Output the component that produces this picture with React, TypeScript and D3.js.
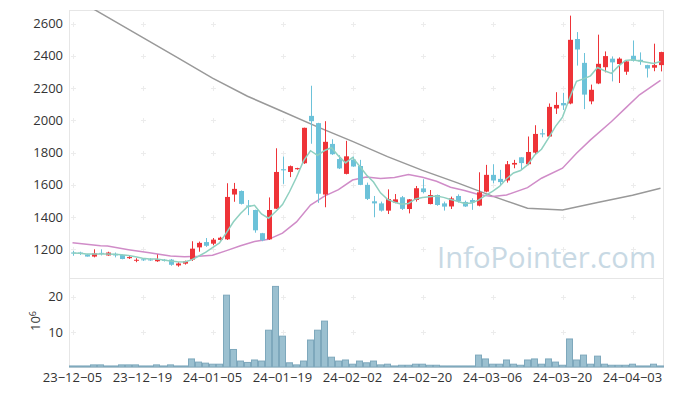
import React, { useEffect, useRef } from 'react';
import * as d3 from 'd3';

// trading days (yy-mm-dd)
const dates = [
  '23-12-05', '23-12-06', '23-12-07', '23-12-08', '23-12-11', '23-12-12', '23-12-13', '23-12-14', '23-12-15', '23-12-18',
  '23-12-19', '23-12-20', '23-12-21', '23-12-22', '23-12-26', '23-12-27', '23-12-28',
  '24-01-02', '24-01-03', '24-01-04', '24-01-05', '24-01-08', '24-01-09', '24-01-10', '24-01-11', '24-01-12',
  '24-01-15', '24-01-16', '24-01-17', '24-01-18', '24-01-19', '24-01-22', '24-01-23', '24-01-24', '24-01-25',
  '24-01-26', '24-01-29', '24-01-30', '24-01-31',
  '24-02-01', '24-02-02', '24-02-05', '24-02-06', '24-02-07', '24-02-08', '24-02-13', '24-02-14', '24-02-15',
  '24-02-16', '24-02-19', '24-02-20', '24-02-21', '24-02-22', '24-02-23', '24-02-26', '24-02-27', '24-02-28', '24-02-29',
  '24-03-04', '24-03-05', '24-03-06', '24-03-07', '24-03-08', '24-03-11', '24-03-12', '24-03-13', '24-03-14',
  '24-03-15', '24-03-18', '24-03-19', '24-03-20', '24-03-21', '24-03-22', '24-03-25', '24-03-26', '24-03-27',
  '24-03-28', '24-03-29',
  '24-04-01', '24-04-02', '24-04-03', '24-04-04', '24-04-05', '24-04-08', '24-04-09',
];

const opens = [
  1180, 1180, 1168, 1155, 1178, 1162, 1172, 1165, 1145, 1133, 1138, 1137, 1126, 1135, 1136, 1100, 1111, 1136, 1212, 1245,
  1235, 1258, 1262, 1540, 1562, 1472, 1444, 1300, 1262, 1452, 1697, 1680, 1697, 1734, 2028, 1983, 1540, 1854, 1760, 1668,
  1757, 1717, 1600, 1498, 1485, 1440, 1490, 1523, 1450, 1506, 1578, 1481, 1537, 1485, 1466, 1531, 1494, 1506, 1471, 1558,
  1662, 1637, 1627, 1726, 1771, 1728, 1800, 1920, 1900, 2074, 2108, 2105, 2505, 2357, 2118, 2229, 2330, 2383, 2350, 2302,
  2401, 2376, 2343, 2327, 2343,
];
const highs = [
  1190, 1185, 1170, 1200, 1200, 1185, 1180, 1168, 1162, 1145, 1145, 1145, 1168, 1140, 1140, 1120, 1130, 1250, 1248, 1270,
  1270, 1278, 1610, 1612, 1565, 1506, 1446, 1302, 1522, 1827, 1776, 1720, 1706, 1955, 2215, 1985, 1995, 1883, 1784, 1873,
  1776, 1755, 1614, 1531, 1496, 1572, 1543, 1531, 1512, 1593, 1635, 1568, 1540, 1496, 1527, 1541, 1502, 1517, 1678, 1724,
  1728, 1693, 1748, 1755, 1772, 1900, 1970, 1947, 2105, 2175, 2171, 2650, 2548, 2418, 2222, 2532, 2428, 2397, 2391, 2368,
  2496, 2422, 2345, 2476, 2426,
];
const lows = [
  1160, 1165, 1155, 1150, 1162, 1160, 1150, 1138, 1140, 1120, 1128, 1128, 1122, 1124, 1098, 1092, 1105, 1128, 1185, 1215,
  1225, 1254, 1258, 1495, 1478, 1412, 1303, 1250, 1258, 1450, 1606, 1648, 1694, 1730, 1855, 1488, 1461, 1786, 1698, 1665,
  1712, 1598, 1506, 1399, 1434, 1419, 1486, 1444, 1423, 1496, 1547, 1479, 1470, 1440, 1450, 1490, 1463, 1445, 1467, 1554,
  1610, 1595, 1614, 1703, 1693, 1722, 1786, 1895, 1898, 2040, 2065, 2100, 2340, 2070, 2100, 2225, 2298, 2242, 2232, 2283,
  2365, 2345, 2266, 2305, 2304,
];
const closes = [
  1175, 1175, 1155, 1175, 1172, 1180, 1162, 1140, 1152, 1135, 1135, 1136, 1138, 1128, 1104, 1112, 1125, 1204, 1240, 1222,
  1260, 1272, 1525, 1575, 1482, 1465, 1318, 1256, 1444, 1680, 1690, 1716, 1704, 1954, 1995, 1545, 1867, 1790, 1702, 1777,
  1714, 1600, 1513, 1485, 1440, 1512, 1510, 1451, 1510, 1579, 1555, 1537, 1475, 1465, 1516, 1500, 1466, 1490, 1554, 1662,
  1627, 1617, 1728, 1736, 1735, 1804, 1916, 1913, 2084, 2096, 2093, 2500, 2440, 2160, 2190, 2351, 2399, 2360, 2383, 2366,
  2370, 2366, 2322, 2343, 2424,
];
// closes of the 4 days before the first shown day (for the 5-day average)
const priorCloses = [1180, 1178, 1176, 1175];

// volume, millions
const volumes = [
  0.3, 0.3, 0.3, 0.6, 0.6, 0.3, 0.3, 0.6, 0.6, 0.6, 0.3, 0.3, 0.6, 0.3, 0.6, 0.3, 0.3, 2.3, 1.4, 1.1,
  0.8, 0.8, 20.5, 5.0, 1.7, 1.3, 2.0, 1.7, 10.5, 23.0, 8.8, 1.2, 0.6, 1.7, 7.7, 10.5, 13.1, 2.8, 1.7, 2.0,
  0.8, 1.7, 1.2, 1.7, 0.6, 0.8, 0.3, 0.5, 0.5, 0.8, 0.8, 0.5, 0.5, 0.3, 0.3, 0.3, 0.3, 0.3, 3.4, 2.3,
  0.8, 0.8, 2.0, 0.8, 0.5, 2.0, 2.3, 0.8, 2.3, 1.4, 0.5, 8.0, 2.0, 3.4, 0.8, 3.1, 0.8, 0.5, 0.5, 0.5,
  0.8, 0.3, 0.3, 0.8, 0.3,
];

// 20-day average
const ma20Idx = [0, 4, 5, 8, 11, 14, 16, 18, 20, 22, 24, 26, 28, 30, 32, 34, 36, 38, 40, 42, 44, 46, 48, 50, 52, 54, 56, 58, 60, 62, 65, 67, 70, 72, 74, 77, 79, 81, 84];
const ma20Val = [1241, 1222, 1220, 1198, 1178, 1158, 1154, 1157, 1163, 1192, 1222, 1248, 1262, 1300, 1370, 1475, 1530, 1570, 1630, 1648, 1640, 1645, 1664, 1647, 1622, 1585, 1565, 1540, 1527, 1537, 1583, 1641, 1703, 1796, 1879, 1993, 2076, 2159, 2248];

// long average
const maLongIdx = [0, 5, 10, 15, 20, 25, 30, 35, 40, 45, 50, 55, 60, 65, 70, 75, 80, 84];
const maLongVal = [2766, 2641, 2515, 2390, 2262, 2150, 2055, 1960, 1870, 1775, 1690, 1612, 1530, 1455, 1444, 1490, 1535, 1579];

const priceTicks = [1200, 1400, 1600, 1800, 2000, 2200, 2400, 2600];
const volumeTicks = [10, 20];
const labelEvery = 10;

const App: React.FC = () => {
  const svgRef = useRef<SVGSVGElement>(null);

  useEffect(() => {
    if (!svgRef.current) return;
    const svg = d3.select(svgRef.current);
    svg.selectAll('*').remove();

    const left = 69;
    const right = 664;
    const priceTop = 10;
    const priceBottom = 278;
    const volBottom = 367;

    const x = d3.scaleBand<number>()
      .domain(d3.range(dates.length))
      .range([left, right])
      .padding(0);
    const step = x.bandwidth();
    const cx = (i: number) => (x(i) as number) + step / 2;

    const y = d3.scaleLinear().domain([1022, 2685]).range([priceBottom, priceTop]);
    const yv = d3.scaleLinear().domain([0, 25.4]).range([volBottom, priceBottom]);

    const font = "'Open Sans', 'Noto Sans', sans-serif";

    // clip
    const defs = svg.append('defs');
    defs.append('clipPath').attr('id', 'priceClip')
      .append('rect').attr('x', left).attr('y', priceTop).attr('width', right - left).attr('height', priceBottom - priceTop);

    // frame
    const frame = svg.append('g').attr('stroke', '#e6e6e6').attr('fill', 'none');
    frame.append('rect').attr('x', left + 0.5).attr('y', priceTop + 0.5).attr('width', right - left - 1).attr('height', volBottom - priceTop);
    frame.append('line').attr('x1', left).attr('x2', right).attr('y1', priceBottom + 0.5).attr('y2', priceBottom + 0.5);

    // grid crosses
    const tickIdx = d3.range(0, dates.length, labelEvery);
    const crosses = svg.append('g').attr('stroke', '#ececec').attr('stroke-width', 1);
    const ys = [...priceTicks.map(v => y(v)), ...volumeTicks.map(v => yv(v))];
    tickIdx.forEach(i => {
      ys.forEach(yy => {
        const xx = Math.round(cx(i)) + 0.5;
        const y0 = Math.round(yy) + 0.5;
        crosses.append('line').attr('x1', xx - 2.5).attr('x2', xx + 2.5).attr('y1', y0).attr('y2', y0);
        crosses.append('line').attr('x1', xx).attr('x2', xx).attr('y1', y0 - 2.5).attr('y2', y0 + 2.5);
      });
    });

    // watermark
    svg.append('text')
      .attr('x', 437)
      .attr('y', 268)
      .attr('textLength', 219)
      .attr('lengthAdjust', 'spacingAndGlyphs')
      .style('font-family', font)
      .style('font-size', '30px')
      .style('fill', '#c8d9e4')
      .text('InfoPointer.com');

    const plot = svg.append('g').attr('clip-path', 'url(#priceClip)');

    // long average
    const line = d3.line<[number, number]>().x(d => cx(d[0])).y(d => y(d[1]));
    plot.append('path')
      .attr('d', line(maLongIdx.map((i, k) => [i, maLongVal[k]] as [number, number])))
      .attr('fill', 'none')
      .attr('stroke', '#999999')
      .attr('stroke-width', 1.5);

    // 20-day
    plot.append('path')
      .attr('d', line(ma20Idx.map((i, k) => [i, ma20Val[k]] as [number, number])))
      .attr('fill', 'none')
      .attr('stroke', '#d08cc8')
      .attr('stroke-width', 1.5);

    // 5-day from closes
    const all = [...priorCloses, ...closes];
    const ma5 = closes.map((_, i) => d3.mean(all.slice(i, i + 5)) as number);

    // candles
    const up = '#ee3338';
    const down = '#6cc2d9';
    closes.forEach((c, i) => {
      const o = opens[i];
      const col = c >= o ? up : down;
      const xm = Math.round(cx(i)) + 0.5;
      plot.append('line')
        .attr('x1', xm).attr('x2', xm)
        .attr('y1', y(highs[i])).attr('y2', y(lows[i]))
        .attr('stroke', col).attr('stroke-width', 1);
      const top = y(Math.max(o, c));
      const h = Math.max(1, y(Math.min(o, c)) - top);
      plot.append('rect')
        .attr('x', xm - 2.5).attr('width', 5)
        .attr('y', top).attr('height', h)
        .attr('fill', col);
    });

    plot.append('path')
      .attr('d', line(ma5.map((v, i) => [i, v] as [number, number])))
      .attr('fill', 'none')
      .attr('stroke', '#8fd0c0')
      .attr('stroke-width', 1.5);

    // volume bars
    svg.append('g').selectAll('rect')
      .data(volumes)
      .join('rect')
      .attr('x', (_, i) => (x(i) as number) + 0.5)
      .attr('width', step - 1)
      .attr('y', d => yv(d))
      .attr('height', d => volBottom - yv(d))
      .attr('fill', '#9bc0d0')
      .attr('stroke', '#7ea8bc')
      .attr('stroke-width', 1);

    // y labels
    const labels = svg.append('g')
      .style('font-family', font)
      .style('font-size', '13px')
      .style('fill', '#333');
    priceTicks.forEach(v => {
      labels.append('text')
        .attr('x', 63).attr('y', y(v)).attr('dy', '0.35em')
        .attr('text-anchor', 'end')
        .text(v);
    });
    volumeTicks.forEach(v => {
      labels.append('text')
        .attr('x', 63).attr('y', yv(v)).attr('dy', '0.35em')
        .attr('text-anchor', 'end')
        .text(v);
    });
    const unit = labels.append('text')
      .attr('transform', 'translate(40,321) rotate(-90)')
      .attr('text-anchor', 'middle');
    unit.append('tspan').text('10');
    unit.append('tspan').attr('dy', '-0.5em').style('font-size', '9px').text('6');

    // x labels (the chart draws the dashes wide)
    tickIdx.forEach(i => {
      labels.append('text')
        .attr('x', cx(i)).attr('y', 382)
        .attr('text-anchor', 'middle')
        .text(dates[i].replace(/-/g, '\u2212'));
    });
  }, []);

  return (
    <div style={{ position: 'fixed', left: 0, top: 0, width: 673, height: 396, background: '#fff' }}>
      <svg ref={svgRef} width="673" height="396" />
    </div>
  );
};

export default App;
